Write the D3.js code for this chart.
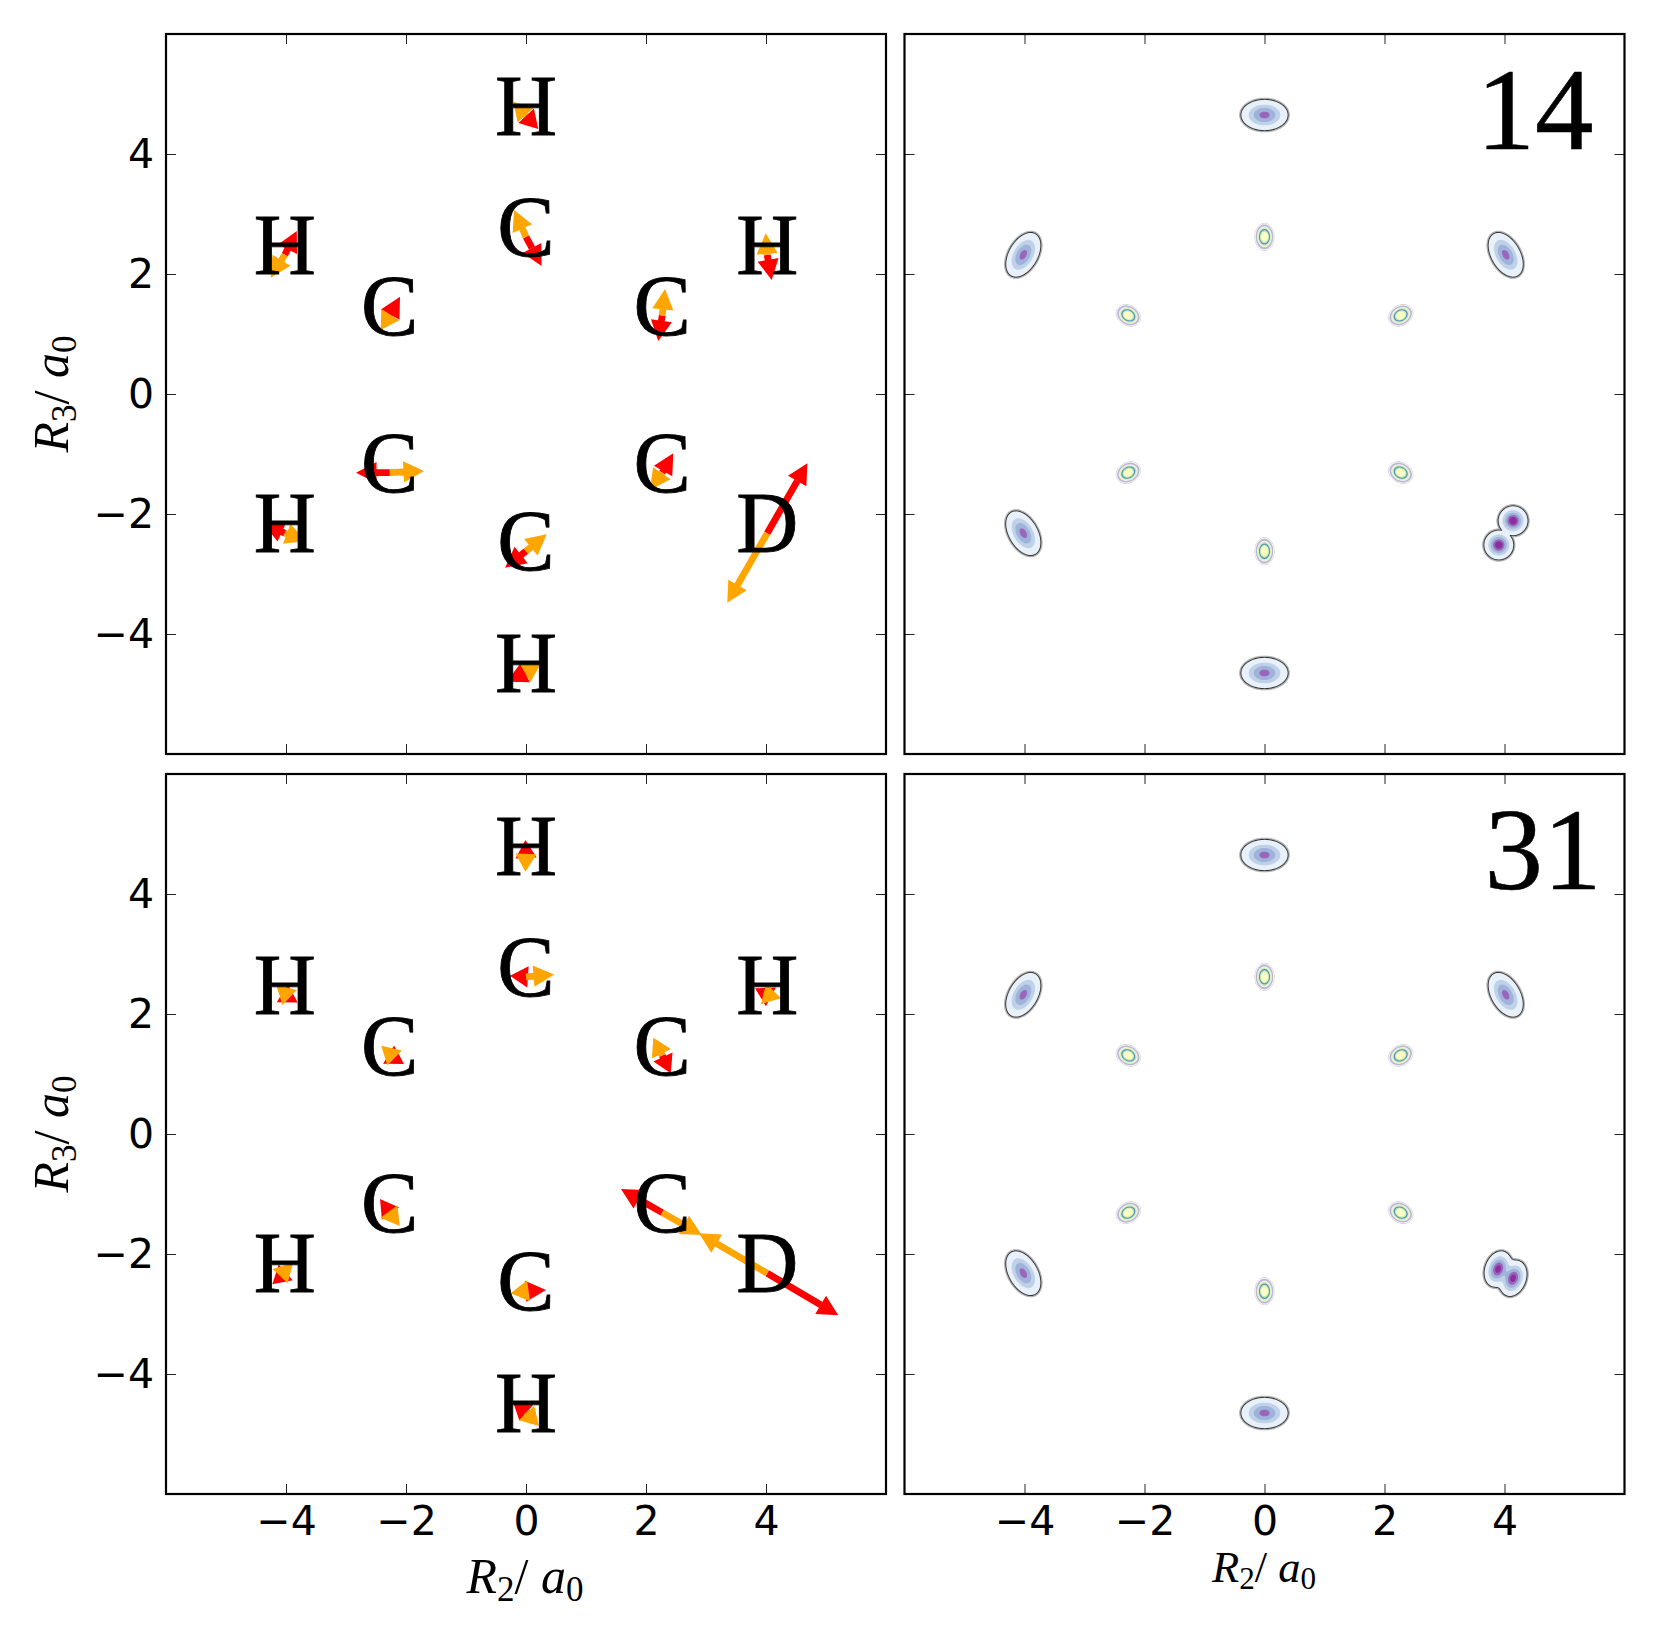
<!DOCTYPE html>
<html>
<head>
<meta charset="utf-8">
<script src="https://cdn.jsdelivr.net/npm/d3@7"></script>
<style>
  html, body { margin: 0; padding: 0; background: #fff; }
  svg { display: block; }
  text { fill: #000; }
</style>
</head>
<body>
<svg id="fig" width="1657" height="1639"></svg>
<script>
// Nuclear geometry of the C6H5D ring in the R2/R3 plane, in bohr.
const atomLabels = ["H", "C", "H", "H", "C", "C", "C", "C", "H", "D", "C", "H"];
const atomX = [0, 0, -4.02, 4.02, -2.27, 2.27, -2.27, 2.27, -4.02, 4.02, 0, 0];
const atomY = [4.64, 2.62, 2.32, 2.32, 1.31, 1.31, -1.31, -1.31, -2.32, -2.32, -2.62, -4.64];

// Arrow tips for snapshot 14.
const redTipX14 = [0.205, 0.26, -3.82, 4.095, -2.1, 2.205, -2.833, 2.455, -4.378, 4.69, -0.35, -0.322];
const redTipY14 = [4.417, 2.133, 2.717, 1.9, 1.622, 0.883, -1.312, -0.988, -2.155, -1.155, -2.895, -4.795];
const orangeTipX14 = [-0.21, -0.2, -4.255, 3.995, -2.42, 2.317, -1.7, 2.067, -3.667, 3.355, 0.345, 0.245];
const orangeTipY14 = [4.872, 3.067, 1.938, 2.678, 1.067, 1.75, -1.283, -1.6, -2.45, -3.48, -2.338, -4.5];

// Arrow tips for snapshot 31.
const redTipX31 = [-0.01, -0.267, -3.805, 3.817, -2.033, 2.412, -2.433, 1.583, -4.228, 5.205, 0.333, -0.222];
const redTipY31 = [4.9, 2.638, 2.19, 2.428, 1.167, 1.012, -1.083, -0.917, -2.505, -3.02, -2.6, -4.45];
const orangeTipX31 = [-0.01, 0.467, -4.06, 4.25, -2.31, 2.122, -2.105, 2.928, -3.972, 2.883, -0.255, 0.217];
const orangeTipY31 = [4.37, 2.66, 2.15, 2.262, 1.14, 1.605, -1.533, -1.683, -2.488, -1.655, -2.655, -4.867];

// Density peaks of the hydrogen and deuterium nuclei.
const heavyX14 = [0, -4.02, 4.02, -4.02, 0, 4.143, 3.905];
const heavyY14 = [4.65, 2.32, 2.32, -2.32, -4.65, -2.112, -2.517];
const heavyX31 = [0, -4.02, 4.02, -4.02, 0, 3.893, 4.143];
const heavyY31 = [4.65, 2.32, 2.32, -2.32, -4.65, -2.25, -2.405];
const heavySigmaLong14 = [0.153, 0.158, 0.158, 0.158, 0.153, 0.09, 0.09];
const heavySigmaShort14 = [0.1, 0.093, 0.093, 0.093, 0.1, 0.09, 0.09];
const heavySigmaLong31 = [0.153, 0.158, 0.158, 0.158, 0.153, 0.115, 0.115];
const heavySigmaShort31 = [0.1, 0.093, 0.093, 0.093, 0.1, 0.08, 0.08];
const heavyAngle = [0, 60, 120, 120, 0, 0, 0];
const heavyAngle31 = [0, 60, 120, 120, 0, 70, 70];
const heavyAmp = [0.62, 0.62, 0.62, 0.62, 0.62, 0.92, 0.92];
const heavyAmp31 = [0.62, 0.62, 0.62, 0.62, 0.62, 0.85, 0.85];

// Density peaks of the carbon nuclei.
const carbonX = [0, -2.27, 2.27, -2.27, 2.27, 0];
const carbonY = [2.62, 1.31, 1.31, -1.31, -1.31, -2.62];
const carbonSigmaLong = [0.09, 0.085, 0.085, 0.085, 0.085, 0.09];
const carbonSigmaShort = [0.063, 0.066, 0.066, 0.066, 0.066, 0.063];
const carbonAngle = [90, 150, 30, 30, 150, 90];

// Filled contour levels and colours.
const heavyLevels = [0.026, 0.14, 0.31, 0.53, 0.72];
const heavyColors = ["#e8f1fa", "#bfd1e8", "#9fb3da", "#9a66bc", "#8a2f9f"];
const carbonLevels = [0.044, 0.071, 0.149, 0.236, 0.35, 0.487, 0.637];
const carbonColors = ["#f6f6fa", "#bdb5d8", "#eef3dc", "#d8eeb2", "#4f93c4", "#c2e6b4", "#ffffc2"];

const tickValues = [-4, -2, 0, 2, 4];

const svg = d3.select("#fig");
const panelSize = 720;
const axisFont = "'DejaVu Sans', sans-serif";
const serifFont = "'Liberation Serif', serif";

function makeScales() {
  return {
    x: d3.scaleLinear().domain([-6, 6]).range([0, panelSize]),
    y: d3.scaleLinear().domain([-6, 6]).range([panelSize, 0])
  };
}

function tickText(v) {
  return v < 0 ? "\u2212" + Math.abs(v) : String(v);
}

function drawFrame(g, s, showX, showY) {
  const axes = [
    { gen: d3.axisBottom(s.x), tr: `translate(0,${panelSize})`, show: showX },
    { gen: d3.axisTop(s.x), tr: "translate(0,0)", show: false },
    { gen: d3.axisLeft(s.y), tr: "translate(0,0)", show: showY },
    { gen: d3.axisRight(s.y), tr: `translate(${panelSize},0)`, show: false }
  ];
  axes.forEach(a => {
    const ag = g.append("g").attr("transform", a.tr).call(
      a.gen.tickValues(tickValues).tickSizeInner(-10).tickSizeOuter(0).tickPadding(12)
        .tickFormat(a.show ? tickText : () => "")
    );
    ag.select(".domain").remove();
    ag.selectAll("line").attr("stroke", "#222").attr("stroke-width", 1);
    ag.selectAll("text").attr("font-family", axisFont).attr("font-size", 41).attr("fill", "#000");
  });
  g.append("rect").attr("width", panelSize).attr("height", panelSize)
    .attr("fill", "none").attr("stroke", "#000").attr("stroke-width", 2.2);
}

// Triangle head plus shaft from the nucleus out to the head's base.
function arrowPath(x0, y0, x1, y1) {
  const dx = x1 - x0, dy = y1 - y0, L = Math.hypot(dx, dy) || 1;
  const headLen = L >= 20 ? 20.5 : 18, headHalf = 10.6, shaftHalf = 3.4;
  const ux = dx / L, uy = dy / L, px = -uy, py = ux;
  const bx = x1 - ux * headLen, by = y1 - uy * headLen;
  const path = d3.path();
  path.moveTo(x1, y1);
  path.lineTo(bx + px * headHalf, by + py * headHalf);
  path.lineTo(bx - px * headHalf, by - py * headHalf);
  path.closePath();
  if (L > headLen) {
    path.moveTo(x0 + px * shaftHalf, y0 + py * shaftHalf);
    path.lineTo(bx + px * shaftHalf, by + py * shaftHalf);
    path.lineTo(bx - px * shaftHalf, by - py * shaftHalf);
    path.lineTo(x0 - px * shaftHalf, y0 - py * shaftHalf);
    path.closePath();
  }
  return path.toString();
}

function drawMolecule(g, s, redX, redY, orangeX, orangeY) {
  const layer = (tipsX, tipsY, color) => g.append("g").selectAll("path")
    .data(atomLabels.map((_, i) => i)).join("path")
    .attr("fill", color)
    .attr("d", i => arrowPath(s.x(atomX[i]), s.y(atomY[i]), s.x(tipsX[i]), s.y(tipsY[i])));
  layer(redX, redY, "#ff0000");
  layer(orangeX, orangeY, "#ffa500");
  g.append("g").selectAll("text").data(atomLabels).join("text")
    .attr("x", (_, i) => s.x(atomX[i]))
    .attr("y", (_, i) => s.y(atomY[i] - 0.32))
    .attr("text-anchor", "middle")
    .attr("font-family", serifFont)
    .attr("font-size", 86)
    .attr("stroke", "#000")
    .attr("stroke-width", 0.8)
    .text(d => d);
}

// Accumulates elliptical Gaussian peaks on a per-pixel grid of the panel.
// A separated pair keeps distinct outlines by taking the larger peak at each pixel.
function densityGrid(s, xs, ys, sl, ss, angles, amps, separated) {
  const grid = new Float64Array(panelSize * panelSize);
  xs.forEach((cx, k) => {
    const t = angles[k] * Math.PI / 180, c = Math.cos(t), si = Math.sin(t);
    const reach = Math.max(sl[k], ss[k]) * 5;
    const i0 = Math.max(0, Math.floor(s.x(cx - reach))), i1 = Math.min(panelSize - 1, Math.ceil(s.x(cx + reach)));
    const j0 = Math.max(0, Math.floor(s.y(ys[k] + reach))), j1 = Math.min(panelSize - 1, Math.ceil(s.y(ys[k] - reach)));
    for (let j = j0; j <= j1; j++) {
      const v = s.y.invert(j + 0.5) - ys[k];
      for (let i = i0; i <= i1; i++) {
        const u = s.x.invert(i + 0.5) - cx;
        const a = (u * c + v * si) / sl[k], b = (-u * si + v * c) / ss[k];
        const f = amps[k] * Math.exp(-0.5 * (a * a + b * b));
        const n = j * panelSize + i;
        grid[n] = separated ? Math.max(grid[n], f) : grid[n] + f;
      }
    }
  });
  return grid;
}

function drawContours(g, grid, levels, colors, edgeColor, edgeWidth, haloColor, haloWidth) {
  const bands = d3.contours().size([panelSize, panelSize]).smooth(true).thresholds(levels)(grid);
  const geo = d3.geoPath();
  if (haloWidth) {
    g.append("path").attr("d", geo(bands[0])).attr("fill", "none")
      .attr("stroke", haloColor).attr("stroke-width", haloWidth);
  }
  g.append("path").attr("d", geo(bands[0])).attr("fill", "none")
    .attr("stroke", edgeColor).attr("stroke-width", edgeWidth);
  g.selectAll("path.band").data(bands).join("path").attr("class", "band")
    .attr("d", geo).attr("fill", (_, i) => colors[i]);
}

function drawDensity(g, s, heavy, label, labelX) {
  const cg = densityGrid(s, carbonX, carbonY, carbonSigmaLong, carbonSigmaShort, carbonAngle, carbonX.map(() => 1), false);
  drawContours(g.append("g"), cg, carbonLevels, carbonColors, "#c4c4c4", 1, null, 0);
  const hg = densityGrid(s, heavy.x, heavy.y, heavy.sl, heavy.ss, heavy.angle, heavy.amp, heavy.separated);
  drawContours(g.append("g"), hg, heavyLevels, heavyColors, "#333333", 1.8, "#b0b0b0", 4.4);
  g.append("text").attr("x", labelX).attr("y", 115)
    .attr("text-anchor", "end").attr("font-family", serifFont).attr("font-size", 117)
    .attr("stroke", "#000").attr("stroke-width", 0.6)
    .text(label);
}

// R_2 / a_0 and R_3 / a_0 in math style.
function axisTitle(parent, sub, size, attrs) {
  const t = parent.append("text").attr("font-family", serifFont).attr("font-size", size)
    .attr("text-anchor", "middle");
  Object.entries(attrs).forEach(([k, v]) => t.attr(k, v));
  t.append("tspan").attr("font-style", "italic").text("R");
  t.append("tspan").attr("font-size", size * 0.7).attr("dy", size * 0.16).text(sub);
  t.append("tspan").attr("dy", -size * 0.16).text("/ ");
  t.append("tspan").attr("font-style", "italic").text("a");
  t.append("tspan").attr("font-size", size * 0.7).attr("dy", size * 0.16).text("0");
}

const scales = makeScales();
const leftX = 166, rightX = 904.5, topY = 34, lowY = 774;

const p14 = svg.append("g").attr("transform", `translate(${leftX},${topY})`);
drawMolecule(p14, scales, redTipX14, redTipY14, orangeTipX14, orangeTipY14);
drawFrame(p14, scales, false, true);

const p31 = svg.append("g").attr("transform", `translate(${leftX},${lowY})`);
drawMolecule(p31, scales, redTipX31, redTipY31, orangeTipX31, orangeTipY31);
drawFrame(p31, scales, true, true);

const d14 = svg.append("g").attr("transform", `translate(${rightX},${topY})`);
drawDensity(d14, scales, { x: heavyX14, y: heavyY14, sl: heavySigmaLong14, ss: heavySigmaShort14, angle: heavyAngle, amp: heavyAmp, separated: true }, "14", 689);
drawFrame(d14, scales, false, false);

const d31 = svg.append("g").attr("transform", `translate(${rightX},${lowY})`);
drawDensity(d31, scales, { x: heavyX31, y: heavyY31, sl: heavySigmaLong31, ss: heavySigmaShort31, angle: heavyAngle31, amp: heavyAmp31, separated: false }, "31", 697);
drawFrame(d31, scales, true, false);

axisTitle(svg, "2", 50, { x: 525, y: 1593 });
axisTitle(svg, "2", 44.5, { x: 1264, y: 1582 });
axisTitle(svg, "3", 50, { transform: "translate(68,394) rotate(-90)" });
axisTitle(svg, "3", 50, { transform: "translate(68,1134) rotate(-90)" });
</script>
</body>
</html>
